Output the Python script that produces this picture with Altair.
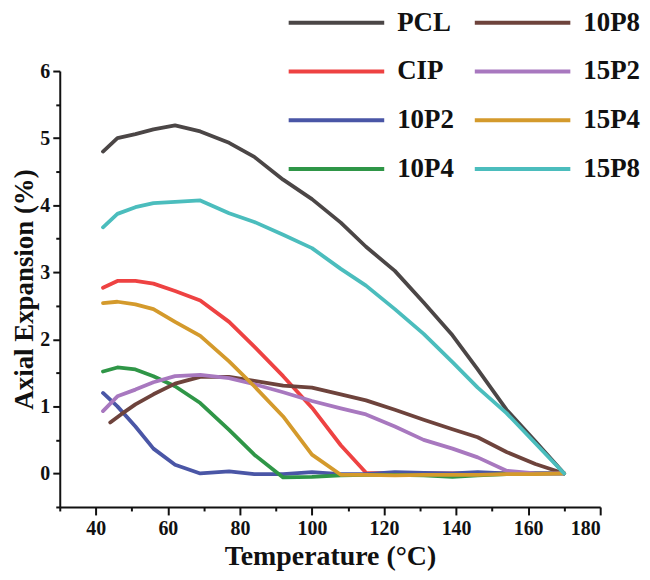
import altair as alt
import pandas as pd

temps = [42, 46, 51, 56, 62, 69, 77, 84, 92, 100, 108, 115, 123, 131, 139, 146, 154, 162, 170]
temps_10p8 = [44, 47, 51, 56, 62, 69, 77, 84, 92, 100, 108, 115, 123, 131, 139, 146, 154, 162, 170]

pcl = [4.80, 5.00, 5.06, 5.13, 5.19, 5.10, 4.93, 4.72, 4.38, 4.09, 3.74, 3.38, 3.02, 2.55, 2.06, 1.55, 0.95, 0.48, 0.0]
cip = [2.77, 2.87, 2.87, 2.83, 2.72, 2.58, 2.26, 1.89, 1.45, 0.98, 0.42, 0.01, 0.0, 0.0, 0.0, 0.0, 0.0, 0.0, 0.0]
p10_2 = [1.20, 1.00, 0.70, 0.37, 0.13, 0.00, 0.03, -0.01, -0.01, 0.02, -0.01, -0.01, 0.02, 0.01, 0.00, 0.02, 0.00, 0.00, 0.00]
p10_4 = [1.52, 1.58, 1.55, 1.45, 1.30, 1.05, 0.65, 0.28, -0.06, -0.05, -0.03, -0.02, -0.02, -0.03, -0.05, -0.03, -0.01, 0.0, 0.0]
p10_8 = [0.76, 0.88, 1.03, 1.18, 1.34, 1.44, 1.44, 1.38, 1.31, 1.28, 1.18, 1.09, 0.95, 0.80, 0.66, 0.54, 0.32, 0.14, 0.0]
p15_2 = [0.93, 1.15, 1.25, 1.36, 1.45, 1.47, 1.42, 1.33, 1.21, 1.08, 0.97, 0.88, 0.70, 0.50, 0.37, 0.24, 0.04, 0.0, 0.0]
p15_4 = [2.54, 2.56, 2.52, 2.45, 2.26, 2.05, 1.67, 1.30, 0.85, 0.28, -0.02, -0.02, -0.03, -0.02, -0.02, -0.02, -0.01, -0.01, 0.0]
p15_8 = [3.67, 3.87, 3.97, 4.03, 4.05, 4.07, 3.88, 3.75, 3.56, 3.36, 3.05, 2.80, 2.45, 2.08, 1.66, 1.28, 0.90, 0.45, 0.0]

series_names = ["PCL", "CIP", "10P2", "10P4", "10P8", "15P2", "15P4", "15P8"]
series_vals = [pcl, cip, p10_2, p10_4, p10_8, p15_2, p15_4, p15_8]
series_temps = [temps, temps, temps, temps, temps_10p8, temps, temps, temps]

colors = {
    "PCL": "#4b4646", "CIP": "#ee4242", "10P2": "#4a56a6", "10P4": "#2f9647",
    "10P8": "#6e433c", "15P2": "#a878bf", "15P4": "#d49a2c", "15P8": "#4bbdbd",
}

x_major = [40, 60, 80, 100, 120, 140, 160, 180]
x_minor = [30, 50, 70, 90, 110, 130, 150, 170]
y_major = [0, 1, 2, 3, 4, 5, 6]
y_minor = [-0.5, 0.5, 1.5, 2.5, 3.5, 4.5, 5.5]

rows = []
for name, ts, vs in zip(series_names, series_temps, series_vals):
    for t, v in zip(ts, vs):
        rows.append({"series": name, "temp": t, "value": v})
df = pd.DataFrame(rows)

FONT = "Liberation Serif"
xscale = alt.Scale(domain=[30, 180], nice=False, zero=False)
yscale = alt.Scale(domain=[-0.5, 6], nice=False, zero=False)

lines = alt.Chart(df).mark_line(strokeWidth=3.8, strokeCap="round", strokeJoin="round").encode(
    x=alt.X("temp:Q", scale=xscale,
            axis=alt.Axis(values=x_major, title="Temperature (°C)", orient="bottom",
                          tickSize=8, labelPadding=4, titlePadding=4, titleFontSize=28)),
    y=alt.Y("value:Q", scale=yscale,
            axis=alt.Axis(values=y_major, title="Axial Expansion (%)", orient="left",
                          tickSize=7, labelPadding=3, titlePadding=1, titleFontSize=27)),
    color=alt.Color("series:N",
                    scale=alt.Scale(domain=series_names, range=[colors[s] for s in series_names]),
                    legend=alt.Legend(title=None, orient="none", legendX=216, legendY=-62.5,
                                      columns=2, symbolType="M0,0H8", symbolSize=576,
                                      symbolStrokeWidth=4, labelFont=FONT, labelFontSize=27,
                                      labelFontWeight="bold", labelColor="#111111",
                                      labelOffset=95, columnPadding=7, rowPadding=22,
                                      padding=0)),
    order=alt.Order("temp:Q"),
)

minor = alt.Chart(df).mark_point(opacity=0).encode(
    x=alt.X("temp:Q", scale=xscale,
            axis=alt.Axis(values=x_minor, labels=False, tickSize=4, domain=False,
                          title=None, orient="bottom")),
    y=alt.Y("value:Q", scale=yscale,
            axis=alt.Axis(values=y_minor, labels=False, tickSize=4, domain=False,
                          title=None, orient="left")),
)

chart = alt.layer(lines, minor).resolve_axis(x="independent", y="independent").properties(
    width=543, height=438,
    autosize=alt.AutoSizeParams(type="none"),
    padding={"left": 52, "top": 62, "right": 42, "bottom": 64},
).configure_view(stroke=None).configure_axis(
    grid=False, domainColor="#111111", domainWidth=2, tickColor="#111111", tickWidth=2,
    labelFont=FONT, labelFontSize=20, labelFontWeight="bold", labelColor="#111111",
    titleFont=FONT, titleFontWeight="bold", titleColor="#111111",
)

chart.save("out.html", embed_options={"renderer": "svg", "actions": False})
